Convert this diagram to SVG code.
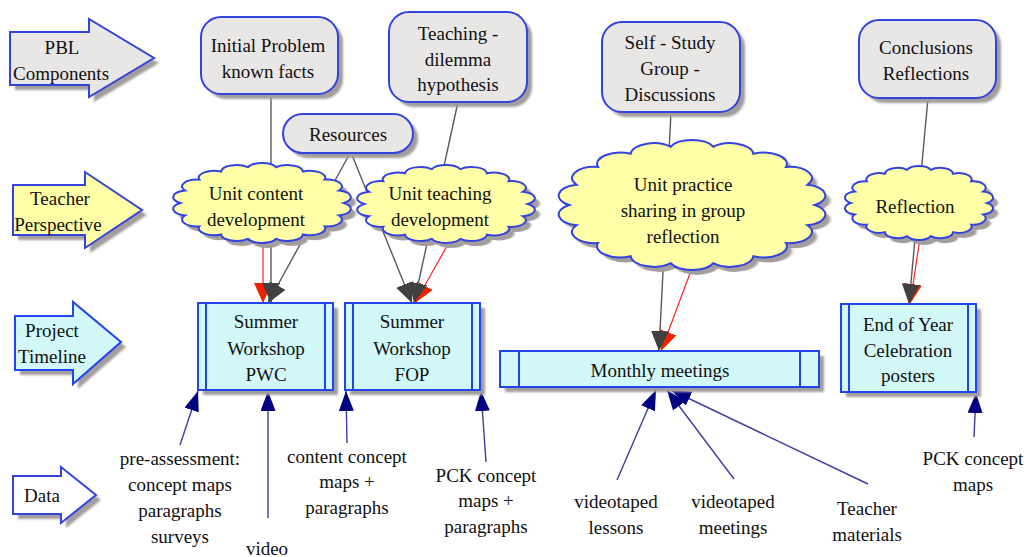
<svg xmlns="http://www.w3.org/2000/svg" width="1030" height="557" viewBox="0 0 1030 557" font-family="'Liberation Serif', 'Noto Serif', 'DejaVu Serif', serif">
<style>
text{font-size:19px;fill:#111;text-anchor:middle}
.sh{fill:#a39d9d;stroke:none}
.box{fill:#e9e6e6;stroke:#3344dd;stroke-width:2}
.cl{fill:#ffffa8;stroke:#3344dd;stroke-width:2}
.tl{fill:#d2f8f8;stroke:#2244ee;stroke-width:2}
.in{stroke:#2244ee;stroke-width:2;fill:none}
.g{stroke:#5a5a5a;stroke-width:1.4;fill:none;marker-end:url(#ag)}
.r{stroke:#ff2222;stroke-width:1.2;fill:none;marker-end:url(#ar)}
.n{stroke:#3d3da5;stroke-width:1.4;fill:none;marker-end:url(#an)}
</style>
<defs>
<filter id="blur" x="-10%" y="-10%" width="120%" height="120%"><feGaussianBlur stdDeviation="1.2"/></filter>
<path id="cloud" vector-effect="non-scaling-stroke" d="M90,0 A17,17 0 0 1 84.6,30.8 A17,17 0 0 1 68.9,57.9 A17,17 0 0 1 45,77.9 A17,17 0 0 1 15.6,88.6 A17,17 0 0 1 -15.6,88.6 A17,17 0 0 1 -45,77.9 A17,17 0 0 1 -68.9,57.9 A17,17 0 0 1 -84.6,30.8 A17,17 0 0 1 -90,0 A17,17 0 0 1 -84.6,-30.8 A17,17 0 0 1 -68.9,-57.9 A17,17 0 0 1 -45,-77.9 A17,17 0 0 1 -15.6,-88.6 A17,17 0 0 1 15.6,-88.6 A17,17 0 0 1 45,-77.9 A17,17 0 0 1 68.9,-57.9 A17,17 0 0 1 84.6,-30.8 A17,17 0 0 1 90,0 Z"/>
<marker id="ag" viewBox="0 0 20 18" refX="20" refY="9" markerWidth="20" markerHeight="18" markerUnits="userSpaceOnUse" orient="auto"><path d="M0,0 L20,9 L0,18 Z" fill="#404040"/></marker>
<marker id="ar" viewBox="0 0 20 18" refX="20" refY="9" markerWidth="20" markerHeight="18" markerUnits="userSpaceOnUse" orient="auto"><path d="M0,0 L20,9 L0,18 Z" fill="#ee2200"/></marker>
<marker id="an" viewBox="0 0 20 15" refX="20" refY="7.5" markerWidth="20" markerHeight="15" markerUnits="userSpaceOnUse" orient="auto"><path d="M0,0 L20,7.5 L0,15 Z" fill="#000080"/></marker>
</defs>
<rect width="1030" height="557" fill="#ffffff"/>

<!-- row labels -->
<g id="label-pbl">
<path class="sh" filter="url(#blur)" transform="translate(5,5)" d="M10,32 L89,32 L89,19 L154,58 L89,97 L89,85 L10,85 Z"/>
<path class="box" d="M10,32 L89,32 L89,19 L154,58 L89,97 L89,85 L10,85 Z"/>
<text x="62" y="54">PBL</text><text x="61" y="80">Components</text>
</g>
<g id="label-teacher">
<path class="sh" filter="url(#blur)" transform="translate(5,5)" d="M13,185 L85,185 L85,172 L142,210 L85,248 L85,235 L13,235 Z"/>
<path class="cl" d="M13,185 L85,185 L85,172 L142,210 L85,248 L85,235 L13,235 Z"/>
<text x="60" y="205">Teacher</text><text x="58" y="231">Perspective</text>
</g>
<g id="label-project">
<path class="sh" filter="url(#blur)" transform="translate(5,5)" d="M15,316 L73,316 L73,302 L121,342 L73,384 L73,370 L15,370 Z"/>
<path class="tl" d="M15,316 L73,316 L73,302 L121,342 L73,384 L73,370 L15,370 Z"/>
<text x="52" y="337">Project</text><text x="52" y="363">Timeline</text>
</g>
<g id="label-data">
<path class="sh" filter="url(#blur)" transform="translate(5,5)" d="M13,476 L61,476 L61,467 L96,495 L61,523 L61,514 L13,514 Z"/>
<path fill="#ffffff" stroke="#3344dd" stroke-width="2" d="M13,476 L61,476 L61,467 L96,495 L61,523 L61,514 L13,514 Z"/>
<text x="42" y="502">Data</text>
</g>

<!-- connectors -->
<g id="connectors">
<path class="r" d="M263,243 L263,303"/>
<path class="r" d="M447,246 L415,303"/>
<path class="r" d="M692,268 L661,351"/>
<path class="r" d="M920,238 L910,304"/>
<path class="g" d="M271,94 L271,303"/>
<path class="g" d="M349,155 L268,303"/>
<path class="g" d="M352,155 L412,303"/>
<path class="g" d="M458,102 L414,303"/>
<path class="g" d="M671,112 L659,351"/>
<path class="g" d="M928,98 L909,304"/>
<path class="n" d="M180,445 L198,391"/>
<path class="n" d="M268,518 L268,391"/>
<path class="n" d="M347,443 L346,391"/>
<path class="n" d="M486,462 L481,391"/>
<path class="n" d="M617,480 L656,390"/>
<path class="n" d="M734,479 L667,390"/>
<path class="n" d="M868,484 L671,390"/>
<path class="n" d="M974,437 L976,393"/>
</g>

<!-- PBL components -->
<g id="initial-problem">
<rect class="sh" filter="url(#blur)" x="206" y="22" width="137" height="77" rx="20"/>
<rect class="box" x="201" y="17" width="137" height="77" rx="20"/>
<text x="268" y="52">Initial Problem</text><text x="268" y="78">known facts</text>
</g>
<g id="teaching-dilemma">
<rect class="sh" filter="url(#blur)" x="394" y="17" width="138" height="90" rx="20"/>
<rect class="box" x="389" y="12" width="138" height="90" rx="20"/>
<text x="458" y="40">Teaching -</text><text x="458" y="66">dilemma</text><text x="458" y="91">hypothesis</text>
</g>
<g id="self-study">
<rect class="sh" filter="url(#blur)" x="607" y="27" width="138" height="90" rx="20"/>
<rect class="box" x="602" y="22" width="138" height="90" rx="20"/>
<text x="670" y="49">Self - Study</text><text x="670" y="75">Group -</text><text x="670" y="101">Discussions</text>
</g>
<g id="conclusions">
<rect class="sh" filter="url(#blur)" x="864" y="25" width="137" height="78" rx="20"/>
<rect class="box" x="859" y="20" width="137" height="78" rx="20"/>
<text x="926" y="54">Conclusions</text><text x="926" y="80">Reflections</text>
</g>
<g id="resources">
<rect class="sh" filter="url(#blur)" x="288" y="119" width="130" height="39" rx="19.5"/>
<rect class="box" x="283" y="114" width="130" height="39" rx="19.5"/>
<text x="348" y="141">Resources</text>
</g>

<!-- teacher perspective clouds -->
<g id="unit-content">
<use href="#cloud" class="sh" filter="url(#blur)" transform="translate(267,208) scale(0.909,0.404)"/>
<use href="#cloud" class="cl" transform="translate(262,203) scale(0.909,0.404)"/>
<text x="256" y="200">Unit content</text><text x="256" y="226">development</text>
</g>
<g id="unit-teaching">
<use href="#cloud" class="sh" filter="url(#blur)" transform="translate(451,209) scale(0.909,0.394)"/>
<use href="#cloud" class="cl" transform="translate(446,204) scale(0.909,0.394)"/>
<text x="440" y="200">Unit teaching</text><text x="440" y="226">development</text>
</g>
<g id="unit-practice">
<use href="#cloud" class="sh" filter="url(#blur)" transform="translate(697,210) scale(1.364,0.657)"/>
<use href="#cloud" class="cl" transform="translate(692,205) scale(1.364,0.657)"/>
<text x="683" y="191">Unit practice</text><text x="683" y="217">sharing in group</text><text x="683" y="243">reflection</text>
</g>
<g id="reflection">
<use href="#cloud" class="sh" filter="url(#blur)" transform="translate(924,208) scale(0.758,0.374)"/>
<use href="#cloud" class="cl" transform="translate(919,203) scale(0.758,0.374)"/>
<text x="915" y="213">Reflection</text>
</g>

<!-- project timeline -->
<g id="summer-pwc">
<rect class="sh" filter="url(#blur)" x="203" y="308" width="135" height="87"/>
<rect class="tl" x="198" y="303" width="135" height="87"/>
<path class="in" d="M206,303 V390 M325,303 V390"/>
<text x="266" y="328">Summer</text><text x="266" y="355">Workshop</text><text x="266" y="381">PWC</text>
</g>
<g id="summer-fop">
<rect class="sh" filter="url(#blur)" x="350" y="308" width="135" height="87"/>
<rect class="tl" x="345" y="303" width="135" height="87"/>
<path class="in" d="M353,303 V390 M472,303 V390"/>
<text x="412" y="328">Summer</text><text x="412" y="355">Workshop</text><text x="412" y="381">FOP</text>
</g>
<g id="monthly">
<rect class="sh" filter="url(#blur)" x="505" y="356" width="319" height="36"/>
<rect class="tl" x="500" y="351" width="319" height="36"/>
<path class="in" d="M519,351 V387 M800,351 V387"/>
<text x="660" y="377">Monthly meetings</text>
</g>
<g id="end-of-year">
<rect class="sh" filter="url(#blur)" x="846" y="309" width="135" height="88"/>
<rect class="tl" x="841" y="304" width="135" height="88"/>
<path class="in" d="M849,304 V392 M968,304 V392"/>
<text x="908" y="331">End of Year</text><text x="908" y="357">Celebration</text><text x="908" y="382">posters</text>
</g>

<!-- data labels -->
<g id="data-preassessment">
<text x="180" y="465">pre-assessment:</text><text x="180" y="491">concept maps</text><text x="180" y="517">paragraphs</text><text x="180" y="543">surveys</text>
</g>
<g id="data-video"><text x="267" y="555">video</text></g>
<g id="data-content"><text x="347" y="463">content concept</text><text x="347" y="488">maps +</text><text x="347" y="514">paragraphs</text></g>
<g id="data-pck-fop"><text x="486" y="482">PCK concept</text><text x="486" y="507">maps +</text><text x="486" y="533">paragraphs</text></g>
<g id="data-lessons"><text x="616" y="508">videotaped</text><text x="616" y="534">lessons</text></g>
<g id="data-meetings"><text x="733" y="508">videotaped</text><text x="733" y="534">meetings</text></g>
<g id="data-materials"><text x="867" y="515">Teacher</text><text x="867" y="541">materials</text></g>
<g id="data-pck-end"><text x="973" y="465">PCK concept</text><text x="973" y="491">maps</text></g>
</svg>
